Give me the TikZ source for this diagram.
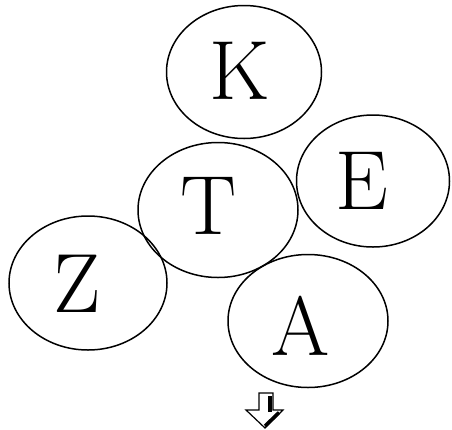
\documentclass[tikz,border=0pt]{standalone}
\usetikzlibrary{shapes.geometric}
\begin{document}
\begin{tikzpicture}[x=1pt,y=-1pt,
  ring/.style={draw=black,line width=1.5pt,ellipse,inner sep=0pt},
  letter/.style={font=\fontsize{84}{84}\selectfont,inner sep=0pt}]
\useasboundingbox[fill=white] (0,0) rectangle (452,429);
\node[ring,minimum width=155pt,minimum height=133pt] (Kr) at (244,72) {};
\node[ring,minimum width=153pt,minimum height=132pt] (Er) at (373,181) {};
\node[ring,minimum width=160pt,minimum height=135pt] (Tr) at (218,210) {};
\node[ring,minimum width=158pt,minimum height=134pt] (Zr) at (88,283) {};
\node[ring,minimum width=160pt,minimum height=133pt] (Ar) at (308,321) {};
\node[letter] (K) at (240,71) {K};
\node[letter] (E) at (362,181) {E};
\node[letter] (T) at (209,206) {T};
\node[letter] (Z) at (77,284) {Z};
\node[letter] (A) at (301,326) {A};
% down arrow
\draw[line width=1.2pt,line join=miter] (259,393) -- (273,393) -- (273,410) -- (283,410) -- (265,428) -- (246,410) -- (259,410) -- cycle;
\draw[line width=3.5pt] (270,396) -- (270,412);
\draw[line width=3.5pt] (279,412.5) -- (265,426);
\end{tikzpicture}
\end{document}
